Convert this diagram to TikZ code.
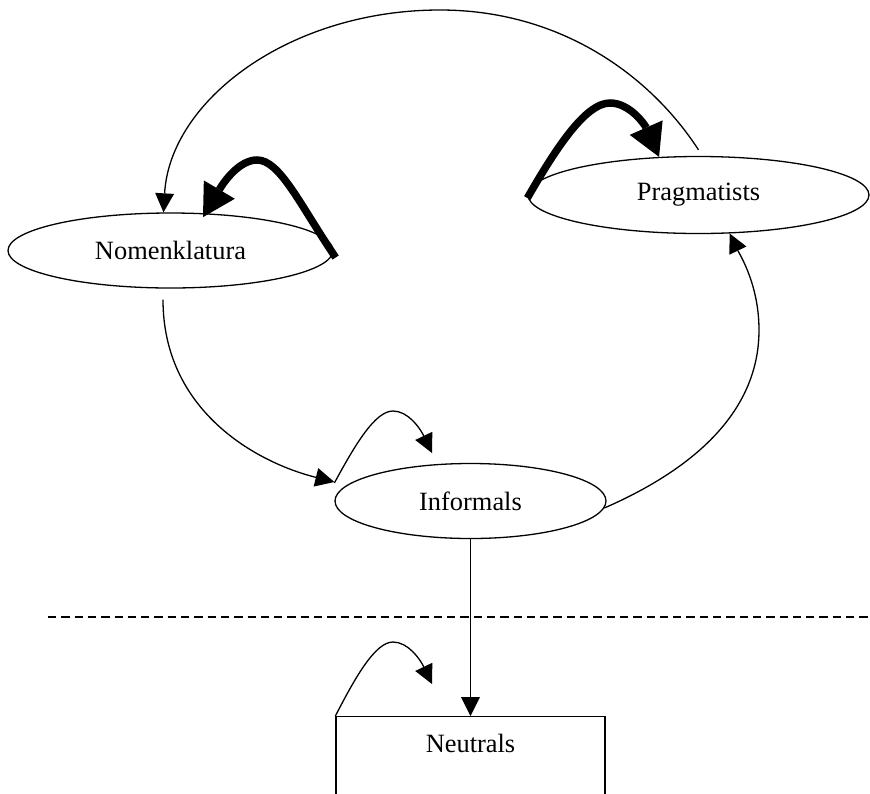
\documentclass[tikz,border=0pt]{standalone}
\usepackage{fontspec}
\setmainfont{Liberation Serif}
\usetikzlibrary{shapes.geometric,arrows.meta}
\begin{document}
\begin{tikzpicture}[x=1pt,y=-1pt,
  every node/.style={font=\fontsize{26.4}{30}\selectfont},
  oval/.style={ellipse,draw,line width=1.3pt,inner sep=0pt},
  box/.style={draw,line width=1.3pt,anchor=north,minimum width=269pt,text height=18pt,text depth=70pt,inner ysep=18pt},
  thinarrow/.style={line width=1.3pt,-{Triangle[length=19pt,width=19pt,line width=0pt]}},
  thickarrow/.style={line width=7.5pt,-{Triangle[length=32pt,width=36pt,line width=0pt]}},
  dashline/.style={line width=1.5pt,dash pattern=on 8.3pt off 5pt},
]
\useasboundingbox (0,0) rectangle (870,793);
\clip (0,0) rectangle (870,793);
\node[oval,minimum width=325pt,minimum height=75pt] (nom) at (170.5,250.5) {Nomenklatura};
\node[oval,minimum width=341pt,minimum height=77pt] (prag) at (698.5,195) {Pragmatists};
\node[oval,minimum width=271pt,minimum height=75pt] (inf) at (470.5,501) {Informals};
\node[box] (neu) at (470.5,716) {Neutrals};
\coordinate (infloop) at (432,453);
\coordinate (neuloop) at (432,684);
\coordinate (dl) at (48,617);
\coordinate (dr) at (870,617);
% dashed separator
\draw[dashline] (dl) -- (dr);
% big top arc: Pragmatists -> Nomenklatura
\draw[thinarrow] ([yshift=6pt]prag.north) .. controls (650,75) and (560,10) .. (440,10)
  .. controls (290,10) and (170,100) .. ([xshift=-7pt]nom.north);
% Nomenklatura -> Informals
\draw[thinarrow] ([xshift=-7.5pt,yshift=-11pt]nom.south) .. controls (163,410) and (255,462) .. ([yshift=19pt]inf.west);
% Informals -> Pragmatists
\draw[thinarrow] (inf.-3) .. controls (680,475) and (759,420) .. (759,330)
  .. controls (759,285) and (740,255) .. (prag.-51);
% Informals -> Neutrals
\draw[thinarrow] (inf.south) -- (neu.north);
% self loops
\draw[thickarrow] ([xshift=2pt,yshift=-7pt]nom.east) .. controls (300,205) and (280,160) .. (257,160)
  .. controls (240,160) and (225,180) .. ([yshift=-4pt]nom.49);
\draw[thickarrow] ([yshift=-3pt]prag.west) .. controls (555,150) and (585,103) .. (610,103)
  .. controls (630,103) and (645,125) .. (prag.136);
\draw[thinarrow] ([yshift=18pt]inf.west) .. controls (355,445) and (375,411) .. (393,411)
  .. controls (408,411) and (420,428) .. (infloop);
\draw[thinarrow] (neu.north west) .. controls (355,678) and (375,642) .. (393,642)
  .. controls (408,642) and (420,659) .. (neuloop);
\end{tikzpicture}
\end{document}
